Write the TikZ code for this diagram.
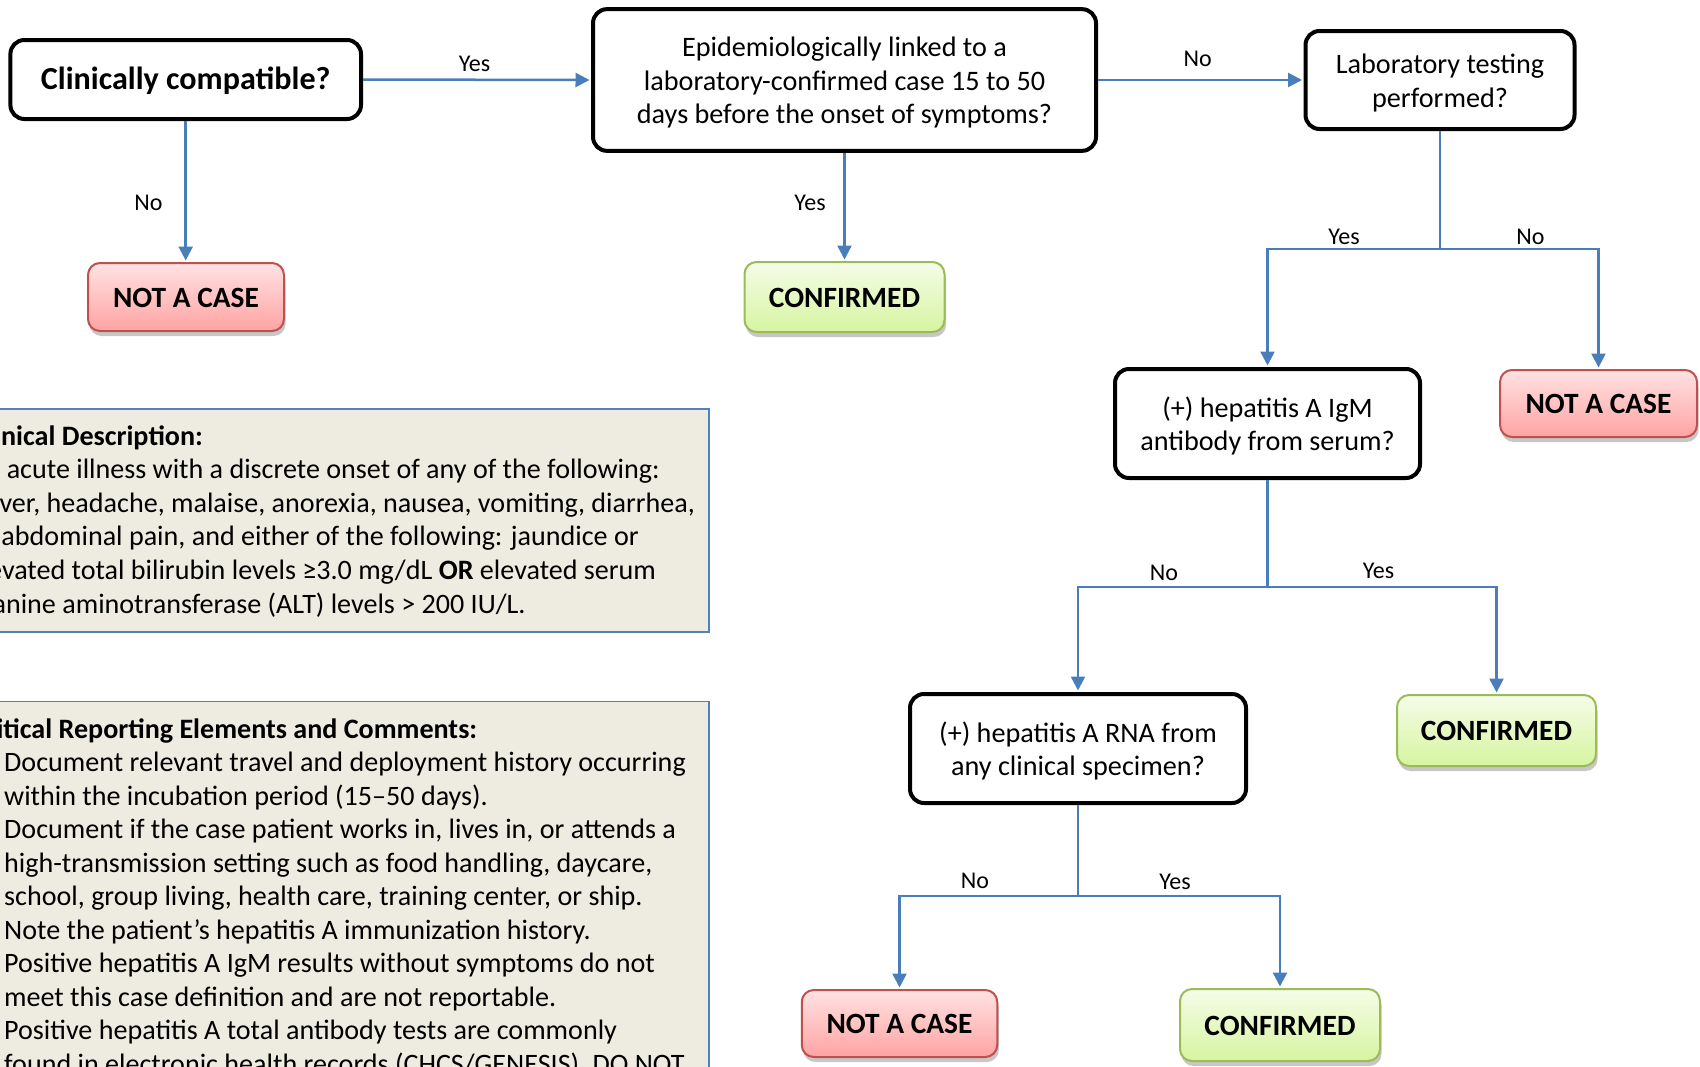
\documentclass[tikz,border=0pt]{standalone}
\usepackage{fontspec}
\setmainfont{Carlito}
\usetikzlibrary{arrows.meta,shadows}
\definecolor{nacB}{HTML}{C0504D}
\definecolor{nacT}{HTML}{FFE2E2}
\definecolor{nacBot}{HTML}{FFA3A3}
\definecolor{cfB}{HTML}{9BBB59}
\definecolor{cfT}{HTML}{F5FCE8}
\definecolor{cfBot}{HTML}{D6F5A0}
\definecolor{connC}{HTML}{4A7EBB}
\definecolor{panB}{HTML}{4F81BD}
\definecolor{panF}{HTML}{EEECE1}
\newcommand{\mystrut}{\rule[-7pt]{0pt}{26pt}}
\newcommand{\topstrut}{\rule[-7pt]{0pt}{34.6pt}}
\begin{document}
\begin{tikzpicture}[x=1pt,y=-1pt,
  q/.style={draw=black, line width=4pt, rounded corners=14pt, fill=white, inner sep=0pt, align=center,
    font=\fontsize{28.2}{33.5}\selectfont},
  term/.style={line width=2pt, rounded corners=12pt, inner sep=0pt,
    font=\bfseries\fontsize{29.4}{34}\selectfont,
    drop shadow={shadow xshift=1.5pt, shadow yshift=-5pt, opacity=0.22, fill=black}},
  nac/.style={term, draw=nacB, top color=nacT, bottom color=nacBot},
  conf/.style={term, draw=cfB, top color=cfT, bottom color=cfBot},
  wire/.style={draw=connC, line width=2.5pt},
  conn/.style={wire, shorten >=1.5pt, -{Triangle[length=14pt,width=14pt]}},
  lbl/.style={font=\fontsize{24}{28}\selectfont, anchor=base, inner sep=0pt},
  ptxt/.style={anchor=base west, inner sep=0pt, font=\fontsize{28.1}{33.5}\selectfont},
  panel/.style={draw=panB, line width=1.5pt, fill=panF}
]
\clip (0,0) rectangle (1700,1066);

% decision boxes
\node[q, minimum width=350.6pt, minimum height=79pt, font=\bfseries\fontsize{32.1}{36}\selectfont] (b1) at (185.7,79.5) {\topstrut Clinically compatible?};
\node[q, minimum width=503pt, minimum height=141.7pt] (b2) at (844.5,80) {\topstrut Epidemiologically linked to a\\\mystrut laboratory-confirmed case 15 to 50\\\mystrut days before the onset of symptoms?};
\node[q, minimum width=269pt, minimum height=98pt] (b3) at (1440,80) {\topstrut Laboratory testing\\\mystrut performed?};
\node[q, minimum width=305pt, minimum height=109pt] (b4) at (1267.5,423.5) {\topstrut (+) hepatitis A IgM\\\mystrut antibody from serum?};
\node[q, minimum width=336pt, minimum height=109pt] (b5) at (1078,748.5) {\topstrut (+) hepatitis A RNA from\\\mystrut any clinical specimen?};

% outcome boxes
\node[nac, minimum width=196pt, minimum height=68pt] (n1) at (186,297) {\topstrut NOT A CASE};
\node[conf, minimum width=200pt, minimum height=70pt] (c1) at (844.5,297) {\topstrut CONFIRMED};
\node[nac, minimum width=197pt, minimum height=67pt] (n2) at (1598.5,403.5) {\topstrut NOT A CASE};
\node[conf, minimum width=199pt, minimum height=71pt] (c2) at (1496.5,730.5) {\topstrut CONFIRMED};
\node[nac, minimum width=195.5pt, minimum height=67pt] (n3) at (899.5,1023.5) {\topstrut NOT A CASE};
\node[conf, minimum width=200pt, minimum height=72pt] (c3) at (1280,1025) {\topstrut CONFIRMED};

% connectors
\draw[conn] (b1.east) -- (b2.west);
\draw[conn] (b1.south) -- (b1.south |- n1.north);
\draw[conn] (b2.south) -- (c1.north);
\draw[conn] (b2.east) -- (b3.west);
\coordinate (j3) at (1440,249);
\coordinate (j4) at (1267.5,587);
\coordinate (j5) at (1078,896);
\draw[wire] (b3.south) -- (j3);
\draw[conn] (j3) -| (b4.north);
\draw[conn] (j3) -| (n2.north);
\draw[wire] (b4.south) -- (j4);
\draw[conn] (j4) -| (b5.north);
\draw[conn] (j4) -| (c2.north);
\draw[wire] (b5.south) -- (j5);
\draw[conn] (j5) -| (n3.north);
\draw[conn] (j5) -| (c3.north);

% connector labels
\node[lbl] (ly1) at (474.5,71.7) {Yes};
\node[lbl] (ln1) at (148.5,210) {No};
\node[lbl] (ly2) at (810,210.7) {Yes};
\node[lbl] (ln2) at (1197.6,66.7) {No};
\node[lbl] (ly3) at (1344,244) {Yes};
\node[lbl] (ln3) at (1530.5,244) {No};
\node[lbl] (ln4) at (1164,580.7) {No};
\node[lbl] (ly4) at (1378.6,578) {Yes};
\node[lbl] (ln5) at (975,888.3) {No};
\node[lbl] (ly5) at (1175,889.3) {Yes};

% panel 1
\path[panel] (-40,409) rectangle (709,632);
\node[ptxt] (p1a) at (-27.8,445) {\bfseries Clinical Description:};
\node[ptxt] (p1b) at (-30.8,478.6) {An acute illness with a discrete onset of any of the following:};
\node[ptxt] (p1c) at (-27,512.2) {Fever, headache, malaise, anorexia, nausea, vomiting, diarrhea,};
\node[ptxt] (p1d) at (-29.8,545.8) {or abdominal pain, and either of the following: jaundice or};
\node[ptxt] (p1e) at (-32.5,579.4) {elevated total bilirubin levels ≥3.0 mg/dL \textbf{OR} elevated serum};
\node[ptxt] (p1f) at (-27.5,613) {alanine aminotransferase (ALT) levels > 200 IU/L.};

% panel 2
\path[panel] (-40,701.7) rectangle (709,1100);
\node[ptxt] (p2a) at (-28.5,738) {\bfseries Critical Reporting Elements and Comments:};
\node[ptxt] (p2b) at (4,771.7) {Document relevant travel and deployment history occurring};
\node[ptxt] (p2c) at (4,805.2) {within the incubation period (15–50 days).};
\node[ptxt] (p2d) at (4,838.7) {Document if the case patient works in, lives in, or attends a};
\node[ptxt] (p2e) at (4,872.2) {high-transmission setting such as food handling, daycare,};
\node[ptxt] (p2f) at (4,905.7) {school, group living, health care, training center, or ship.};
\node[ptxt] (p2g) at (4,939.2) {Note the patient’s hepatitis A immunization history.};
\node[ptxt] (p2h) at (4,972.7) {Positive hepatitis A IgM results without symptoms do not};
\node[ptxt] (p2i) at (4,1006.2) {meet this case definition and are not reportable.};
\node[ptxt] (p2j) at (4,1039.7) {Positive hepatitis A total antibody tests are commonly};
\node[ptxt] (p2k) at (4,1073.2) {found in electronic health records (CHCS/GENESIS). DO NOT};
\end{tikzpicture}
\end{document}
